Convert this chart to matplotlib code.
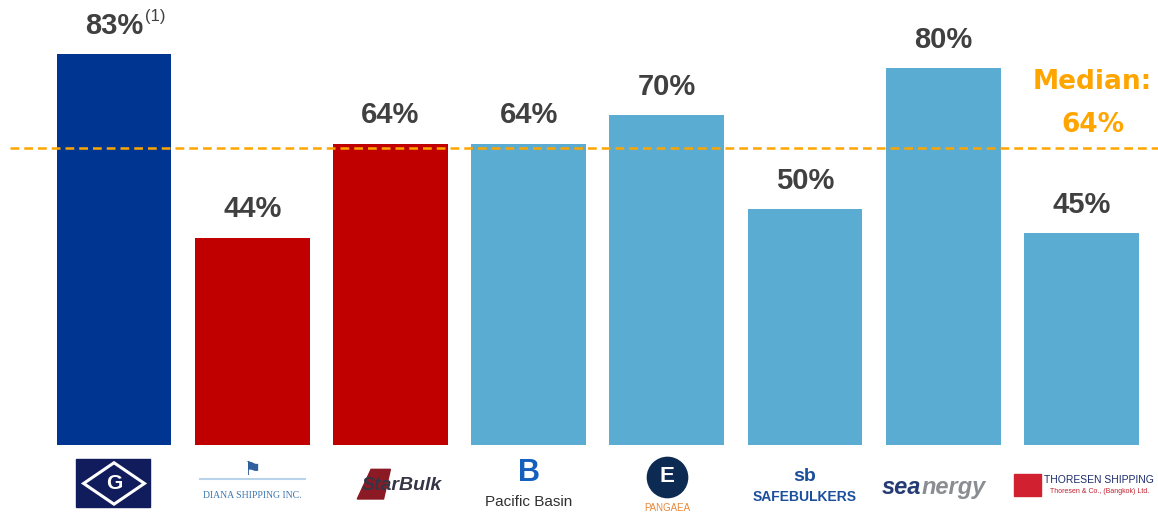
import matplotlib
matplotlib.use("Agg")
import matplotlib.pyplot as plt
from matplotlib.patches import Rectangle, Polygon

companies = ["Genco", "Diana Shipping", "Star Bulk", "Pacific Basin",
             "Pangaea", "Safe Bulkers", "Seanergy", "Thoresen Shipping"]
values = [83, 44, 64, 64, 70, 50, 80, 45]
labels = ["83%", "44%", "64%", "64%", "70%", "50%", "80%", "45%"]
median = 64

navy = "#003591"
red = "#C00000"
light = "#5BACD3"
colors = [navy, red, red, light, light, light, light, light]
orange = "#FFA500"
grey = "#404040"

plt.rcParams["font.family"] = ["Liberation Sans", "DejaVu Sans"]

fig = plt.figure(figsize=(11.58, 5.15), dpi=100)
ax = fig.add_axes([0, 0, 1, 1])
ax.set_xlim(-0.825, 7.554)
ax.set_ylim(-14.9, 94.5)
ax.axis("off")

x = range(len(values))
ax.bar(x, values, width=0.83, color=colors)

for i, (v, lab) in enumerate(zip(values, labels)):
    ax.text(i, v + 6.0, lab, ha="center", va="center", fontsize=21,
            fontweight="bold", color=grey)
ax.text(0.225, 91.0, "(1)", ha="left", va="center", fontsize=12, color=grey)

# median line
ax.axhline(median - 0.9, xmin=0.009, xmax=1, color=orange, lw=1.8, ls=(0, (3.5, 2)))
ax.text(7.08, 77.0, "Median:", ha="center", va="center", fontsize=19,
        fontweight="bold", color=orange, family="DejaVu Sans")
ax.text(7.08, 68.0, "64%", ha="center", va="center", fontsize=19,
        fontweight="bold", color=orange, family="DejaVu Sans")

# logo stand-ins
ly = -8.2
# Genco
gx0, gx1 = -0.275, 0.26
ax.add_patch(Rectangle((gx0, ly - 5.1), gx1 - gx0, 10.2, color="#101c5c", zorder=3))
ax.add_patch(Polygon([[-0.22, ly], [0, ly + 4.4], [0.22, ly], [0, ly - 4.4]],
                     closed=True, fill=False, ec="white", lw=2.2, zorder=4))
ax.text(0, ly, "G", ha="center", va="center", fontsize=15, fontweight="bold",
        color="white", zorder=5)
# Diana
ax.text(1, ly + 2.5, "\u2691", ha="center", va="center", fontsize=14, color="#2f5f9e")
ax.plot([0.62, 1.38], [ly + 1.0, ly + 1.0], color="#b9d3ea", lw=1.5)
ax.text(1, ly - 2.6, "DIANA SHIPPING INC.", ha="center", va="center", fontsize=7,
        family="Liberation Serif", color="#3d77b0")
# Star Bulk
ax.add_patch(Polygon([[1.76, ly - 3.3], [1.86, ly + 3.0], [2.0, ly + 3.0], [1.95, ly - 3.3]],
                     closed=True, color="#8b1a24"))
ax.text(2.08, ly - 0.5, "StarBulk", ha="center", va="center", fontsize=14,
        fontweight="bold", style="italic", color="#353545")
# Pacific Basin
ax.text(3, ly + 2.2, "B", ha="center", va="center", fontsize=22, fontweight="bold",
        color="#1560bd")
ax.text(3, ly - 4.0, "Pacific Basin", ha="center", va="center", fontsize=11,
        color="#303030")
# Pangaea
ax.plot([4], [ly + 1.4], "o", ms=29, color="#0d2b52")
ax.text(4, ly + 1.4, "E", ha="center", va="center", fontsize=16, fontweight="bold",
        color="white")
ax.text(4, ly - 5.2, "PANGAEA", ha="center", va="center", fontsize=7, color="#e8883a")
# Safe Bulkers
ax.text(5, ly + 1.4, "sb", ha="center", va="center", fontsize=14, fontweight="bold",
        color="#1b4f9c")
ax.text(5, ly - 2.8, "SAFEBULKERS", ha="center", va="center", fontsize=10,
        fontweight="bold", color="#1b4f9c")
# Seanergy
ax.text(5.84, ly - 0.8, "sea", ha="right", va="center", fontsize=17, fontweight="bold",
        style="italic", color="#243c73")
ax.text(5.84, ly - 0.8, "nergy", ha="left", va="center", fontsize=17, fontweight="bold",
        style="italic", color="#8a8d91")
# Thoresen
ax.add_patch(Rectangle((6.51, ly - 2.6), 0.2, 4.6, color="#d1202f"))
ax.text(7.13, ly + 0.7, "THORESEN SHIPPING", ha="center", va="center", fontsize=7.5,
        color="#1d2c6b")
ax.text(7.13, ly - 1.7, "Thoresen & Co., (Bangkok) Ltd.", ha="center", va="center",
        fontsize=5, color="#c0202e")

fig.savefig("out.png", dpi=100)
